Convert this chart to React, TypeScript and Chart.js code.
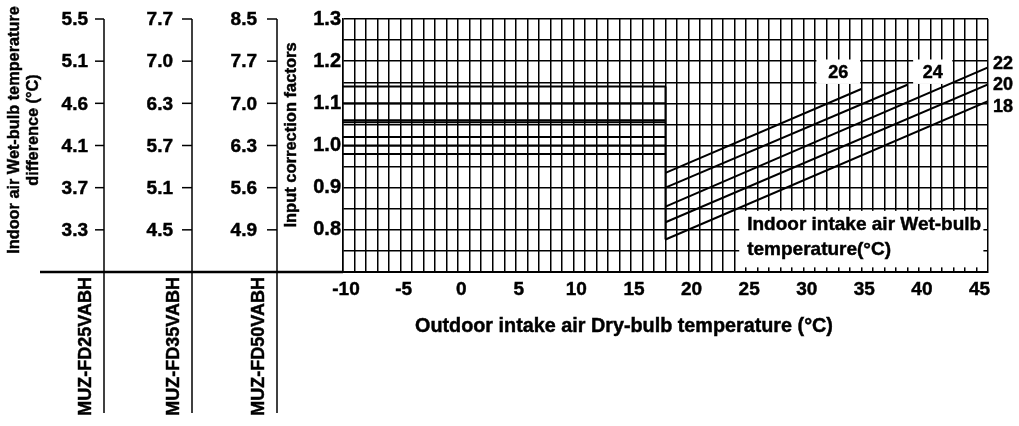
import React, { useEffect, useRef } from 'react';
import { Chart, registerables } from 'chart.js';

Chart.register(...registerables);

// ---- data ----
const factorTicks = [1.3, 1.2, 1.1, 1.0, 0.9, 0.8];
const fd25Diff = ['5.5', '5.1', '4.6', '4.1', '3.7', '3.3'];
const fd35Diff = ['7.7', '7.0', '6.3', '5.7', '5.1', '4.5'];
const fd50Diff = ['8.5', '7.7', '7.0', '6.3', '5.6', '4.9'];
const modelNames = ['MUZ-FD25VABH', 'MUZ-FD35VABH', 'MUZ-FD50VABH'];

const wbLabels = ['26', '24', '22', '20', '18'];
const wbStartX = [18, 18, 18, 18, 18];
const wbEndX = [35, 39, 46, 46, 46];
const wbStartY = [0.935, 0.9, 0.855, 0.818, 0.777];
const wbEndY = [1.134, 1.144, 1.185, 1.145, 1.105];

const lowTempFactors = [1.14, 1.1, 1.06, 1.055, 1.02, 1.0, 0.98];
const lowTempX = [-10, 18];

const FONT = "'Liberation Sans', Arial, Helvetica, sans-serif";
const STROKE = 0.45;

export default function App() {
  const ref = useRef<HTMLCanvasElement | null>(null);

  useEffect(() => {
    const canvas = ref.current;
    if (!canvas) return;

    const datasets: any[] = [];
    lowTempFactors.forEach((v) => {
      datasets.push({
        data: [
          { x: lowTempX[0], y: v },
          { x: lowTempX[1], y: v },
        ],
      });
    });
    // step at 18 degC joining the flat lines and the sloped lines
    datasets.push({
      data: [
        { x: lowTempX[1], y: lowTempFactors[0] },
        { x: wbStartX[wbStartX.length - 1], y: wbStartY[wbStartY.length - 1] },
      ],
    });
    wbLabels.forEach((_, i) => {
      datasets.push({
        data: [
          { x: wbStartX[i], y: wbStartY[i] },
          { x: wbEndX[i], y: wbEndY[i] },
        ],
      });
    });
    datasets.forEach((d) => {
      d.showLine = true;
      d.borderColor = '#000';
      d.borderWidth = 2;
      d.pointRadius = 0;
      d.fill = false;
      d.tension = 0;
    });

    const overlay = {
      id: 'overlay',
      beforeDatasetsDraw(chart: any) {
        const { ctx } = chart;
        const xs = chart.scales.x;
        const ys = chart.scales.y;
        const box = (x0: number, x1: number, y0: number, y1: number) => {
          const l = xs.getPixelForValue(x0);
          const r = xs.getPixelForValue(x1);
          const t = ys.getPixelForValue(y1);
          const b = ys.getPixelForValue(y0);
          ctx.fillStyle = '#fff';
          ctx.fillRect(l, t, r - l, b - t);
        };
        ctx.save();
        box(31.1, 34.9, 1.146, 1.204);
        box(39.5, 42.9, 1.146, 1.204);
        box(24.4, 45.6, 0.711, 0.845);
        ctx.restore();
      },
      afterDraw(chart: any) {
        const { ctx, chartArea } = chart;
        const xs = chart.scales.x;
        const ys = chart.scales.y;
        ctx.save();
        ctx.fillStyle = '#000';
        ctx.strokeStyle = '#000';
        const txt = (s: string, x: number, y: number) => {
          ctx.fillText(s, x, y);
          ctx.lineWidth = STROKE;
          ctx.strokeText(s, x, y);
        };

        // curve labels
        ctx.font = `bold 18px ${FONT}`;
        ctx.textAlign = 'center';
        ctx.textBaseline = 'middle';
        txt(wbLabels[0], xs.getPixelForValue(33), ys.getPixelForValue(1.172));
        txt(wbLabels[1], xs.getPixelForValue(41.2), ys.getPixelForValue(1.172));
        ctx.textAlign = 'left';
        const midY = ys.getPixelForValue(wbEndY[3]);
        for (let i = 2; i < wbLabels.length; i++) {
          txt(wbLabels[i], chartArea.right + 5, midY + (i - 3) * 21.5 + 1);
        }

        // legend box text
        ctx.font = `bold 19px ${FONT}`;
        const bx = xs.getPixelForValue(24.4) + 8;
        const by = ys.getPixelForValue(0.845);
        txt('Indoor intake air Wet-bulb', bx, by + 14);
        txt('temperature(°C)', bx, by + 39);

        // x title
        ctx.font = `bold 19.8px ${FONT}`;
        ctx.textAlign = 'center';
        txt('Outdoor intake air Dry-bulb temperature (°C)', 624, 327);

        // baseline extending left
        ctx.lineWidth = 2.5;
        ctx.beginPath();
        ctx.moveTo(40, chartArea.bottom);
        ctx.lineTo(chartArea.left, chartArea.bottom);
        ctx.stroke();

        // table columns
        const cols = [
          { vals: fd25Diff, lineX: 104, tickL: 95, labelR: 88, nameX: 86 },
          { vals: fd35Diff, lineX: 192, tickL: 182, labelR: 173, nameX: 174 },
          { vals: fd50Diff, lineX: 277, tickL: 267, labelR: 257, nameX: 259 },
        ];
        const topY = ys.getPixelForValue(factorTicks[0]);
        cols.forEach((c, ci) => {
          ctx.lineWidth = 1.5;
          ctx.beginPath();
          ctx.moveTo(c.lineX, topY);
          ctx.lineTo(c.lineX, 413);
          ctx.stroke();
          ctx.font = `bold 19px ${FONT}`;
          ctx.textAlign = 'right';
          ctx.textBaseline = 'middle';
          c.vals.forEach((v, i) => {
            const y = ys.getPixelForValue(factorTicks[i]);
            ctx.lineWidth = 1.5;
            ctx.beginPath();
            ctx.moveTo(c.tickL, y);
            ctx.lineTo(c.lineX, y);
            ctx.stroke();
            txt(v, c.labelR, y + 1);
          });
          ctx.save();
          ctx.translate(c.nameX, 277);
          ctx.rotate(-Math.PI / 2);
          ctx.font = `bold 18px ${FONT}`;
          ctx.textAlign = 'right';
          ctx.textBaseline = 'middle';
          txt(modelNames[ci], 0, 0);
          ctx.restore();
        });

        // rotated axis titles
        const rot = (text: string, x: number, y: number, size: number) => {
          ctx.save();
          ctx.translate(x, y);
          ctx.rotate(-Math.PI / 2);
          ctx.font = `bold ${size}px ${FONT}`;
          ctx.textAlign = 'center';
          ctx.textBaseline = 'middle';
          txt(text, 0, 0);
          ctx.restore();
        };
        rot('Indoor air Wet-bulb temperature', 15, 130, 16.3);
        rot('difference (°C)', 34, 130, 16.3);
        rot('Input correction factors', 291, 135, 16.5);
        ctx.restore();
      },
    };

    const chart = new Chart(canvas, {
      type: 'scatter',
      data: { datasets },
      options: {
        responsive: false,
        animation: false,
        devicePixelRatio: 1,
        layout: { padding: { left: 283, right: 31, top: 19, bottom: 114 } },
        plugins: { legend: { display: false }, tooltip: { enabled: false } },
        scales: {
          x: {
            type: 'linear',
            min: -10,
            max: 46,
            afterFit: (s: any) => {
              s.height = 40;
            },
            ticks: {
              stepSize: 1,
              autoSkip: false,
              maxTicksLimit: 1000,
              maxRotation: 0,
              labelOffset: 3,
              padding: 6,
              color: '#000',
              textStrokeColor: '#000',
              textStrokeWidth: STROKE,
              font: { family: FONT, size: 19, weight: 'bold' },
              callback: (v: any) => (Number(v) % 5 === 0 && Number(v) <= 45 ? String(v) : ''),
            },
            grid: { color: '#000', lineWidth: 1.5, drawTicks: false },
            border: { color: '#000', width: 2 },
          },
          y: {
            type: 'linear',
            min: 0.7,
            max: 1.3,
            afterFit: (s: any) => {
              s.width = 60;
            },
            ticks: {
              stepSize: 0.05,
              autoSkip: false,
              maxTicksLimit: 1000,
              padding: 2,
              color: '#000',
              textStrokeColor: '#000',
              textStrokeWidth: STROKE,
              font: { family: FONT, size: 20, weight: 'bold' },
              callback: (v: any) => {
                const r = Math.round(Number(v) * 100);
                return r % 10 === 0 && r >= 80 ? (r / 100).toFixed(1) : '';
              },
            },
            grid: { color: '#000', lineWidth: 1.5, drawTicks: false },
            border: { color: '#000', width: 1.5 },
          },
        },
      },
      plugins: [overlay],
    } as any);

    return () => chart.destroy();
  }, []);

  return (
    <div style={{ position: 'absolute', left: 0, top: 0, width: 1019, height: 426, background: '#fff' }}>
      <canvas ref={ref} width={1019} height={426} style={{ display: 'block' }} />
    </div>
  );
}
